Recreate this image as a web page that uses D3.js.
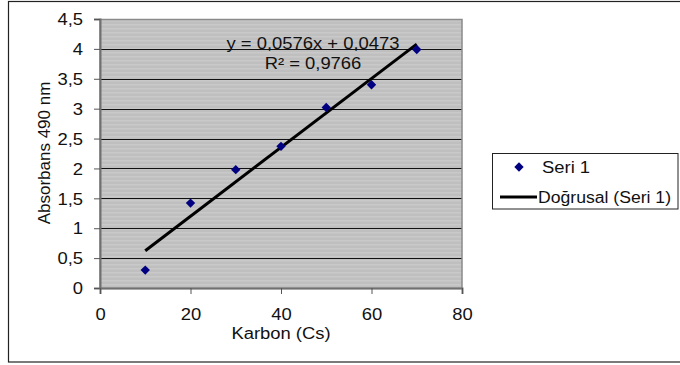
<!DOCTYPE html>
<html>
<head>
<meta charset="utf-8">
<script src="https://cdn.jsdelivr.net/npm/d3@7"></script>
<style>
  html, body { margin: 0; padding: 0; background: #fff; }
  svg { display: block; font-family: "Liberation Sans", Arial, sans-serif; }
</style>
</head>
<body>
<svg id="chart" width="680" height="365"></svg>
<script>
// ---- data ----
const karbon = [10, 20, 30, 40, 50, 60, 70];
const absorbans = [0.30, 1.42, 1.98, 2.37, 3.02, 3.40, 3.99];
const trendSlope = 0.0576;
const trendIntercept = 0.0473;
const xTicks = [0, 20, 40, 60, 80];
const yTicks = [0, 0.5, 1, 1.5, 2, 2.5, 3, 3.5, 4, 4.5];
const equationText = "y = 0,0576x + 0,0473";
const r2Text = "R\u00B2 = 0,9766";
const seriesName = "Seri 1";
const trendName = "Do\u011Frusal (Seri 1)";
const xTitle = "Karbon (Cs)";
const yTitle = "Absorbans 490 nm";

// ---- layout ----
const svg = d3.select("#chart");
const plot = { left: 100, right: 462, top: 19, bottom: 288 };
const x = d3.scaleLinear().domain([0, 80]).range([plot.left, plot.right]);
const y = d3.scaleLinear().domain([0, 4.5]).range([plot.bottom, plot.top]);
const fmt = v => String(v).replace(".", ",");
const STRETCH = 1.15;

// outer border
svg.append("rect").attr("x", 8.5).attr("y", 1.5).attr("width", 700).attr("height", 360.5)
  .attr("fill", "#fff").attr("stroke", "#222").attr("stroke-width", 1.2);

// striped background pattern
const defs = svg.append("defs");
const pat = defs.append("pattern").attr("id", "stripes").attr("patternUnits", "userSpaceOnUse")
  .attr("width", 8).attr("height", 4);
pat.append("rect").attr("width", 8).attr("height", 4).attr("fill", "#bfbfbf");
pat.append("rect").attr("y", 0).attr("width", 8).attr("height", 1.5).attr("fill", "#c9c9c9");

svg.append("rect").attr("x", plot.left).attr("y", plot.top)
  .attr("width", plot.right - plot.left).attr("height", plot.bottom - plot.top)
  .attr("fill", "url(#stripes)");

// gridlines
svg.append("g").selectAll("line").data(yTicks.filter(v => v > 0 && v < 4.5)).join("line")
  .attr("x1", plot.left).attr("x2", plot.right)
  .attr("y1", d => Math.round(y(d)) + 0.5).attr("y2", d => Math.round(y(d)) + 0.5)
  .attr("stroke", "#111").attr("stroke-width", 1.1);

// plot border (top/right gray)
svg.append("rect").attr("x", plot.left).attr("y", plot.top + 0.5)
  .attr("width", plot.right - plot.left).attr("height", plot.bottom - plot.top)
  .attr("fill", "none").attr("stroke", "#8a8a8a").attr("stroke-width", 1.5);

// axes
const yAxis = svg.append("g").attr("transform", `translate(${plot.left},0)`)
  .call(d3.axisLeft(y).tickValues(yTicks).tickFormat(fmt).tickSize(6).tickPadding(11));
const xAxis = svg.append("g").attr("transform", `translate(0,${plot.bottom})`)
  .call(d3.axisBottom(x).tickValues(xTicks).tickSize(6).tickPadding(9));
[yAxis, xAxis].forEach(g => {
  g.select(".domain").attr("stroke", "#707070").attr("stroke-width", 2);
  g.selectAll(".tick line").attr("stroke", "#555").attr("stroke-width", 1);
  g.selectAll(".tick text").attr("font-size", 16).attr("fill", "#111")
    .attr("font-family", "'Liberation Sans', Arial, sans-serif");
});
yAxis.selectAll(".tick text").attr("dy", "0.36em");
xAxis.selectAll(".tick text").attr("dy", "1.05em");

// trend line
const trend = d3.line().x(d => x(d)).y(d => y(trendSlope * d + trendIntercept));
svg.append("path").datum([d3.min(karbon), d3.max(karbon)])
  .attr("d", trend).attr("fill", "none").attr("stroke", "#000").attr("stroke-width", 3);

// points
const diamond = d3.symbol(d3.symbolSquare, 44);
svg.append("g").selectAll("path").data(karbon).join("path")
  .attr("d", diamond)
  .attr("transform", (d, i) => `translate(${x(d)},${y(absorbans[i])}) rotate(45)`)
  .attr("fill", "#000080");

// equation labels
const labels = svg.append("g").attr("font-size", 16).attr("fill", "#111").attr("text-anchor", "middle");
labels.append("text").attr("x", 313).attr("y", 49).text(equationText);
labels.append("text").attr("x", 313).attr("y", 68.5).text(r2Text);

// axis titles
svg.append("text").attr("x", 281).attr("y", 338.5).attr("text-anchor", "middle")
  .attr("font-size", 16).attr("fill", "#111").text(xTitle);
svg.append("text").attr("class", "norot")
  .attr("transform", `translate(50,153) rotate(-90)`).attr("text-anchor", "middle")
  .attr("font-size", 17).attr("fill", "#111").text(yTitle);

// legend
const lg = svg.append("g");
lg.append("rect").attr("x", 492.5).attr("y", 153.5).attr("width", 185.5).attr("height", 55.5)
  .attr("fill", "#fff").attr("stroke", "#222").attr("stroke-width", 1);
lg.append("path").attr("d", diamond).attr("transform", "translate(519,167) rotate(45)").attr("fill", "#000080");
lg.append("text").attr("x", 542).attr("y", 172.5).attr("font-size", 16).attr("fill", "#111").text(seriesName);
lg.append("line").attr("x1", 500).attr("x2", 537).attr("y1", 197).attr("y2", 197)
  .attr("stroke", "#000").attr("stroke-width", 3);
lg.append("text").attr("class", "legtrend").attr("x", 538).attr("y", 202.5)
  .attr("font-size", 16).attr("fill", "#111").text(trendName);

// horizontal stretch of horizontal text to match the reference's rendering
svg.selectAll("text").each(function() {
  if (this.classList.contains("norot")) return;
  const k = this.classList.contains("legtrend") ? 1.1 : STRETCH;
  const len = this.getComputedTextLength();
  d3.select(this).attr("textLength", len * k).attr("lengthAdjust", "spacingAndGlyphs");
});
</script>
</body>
</html>
